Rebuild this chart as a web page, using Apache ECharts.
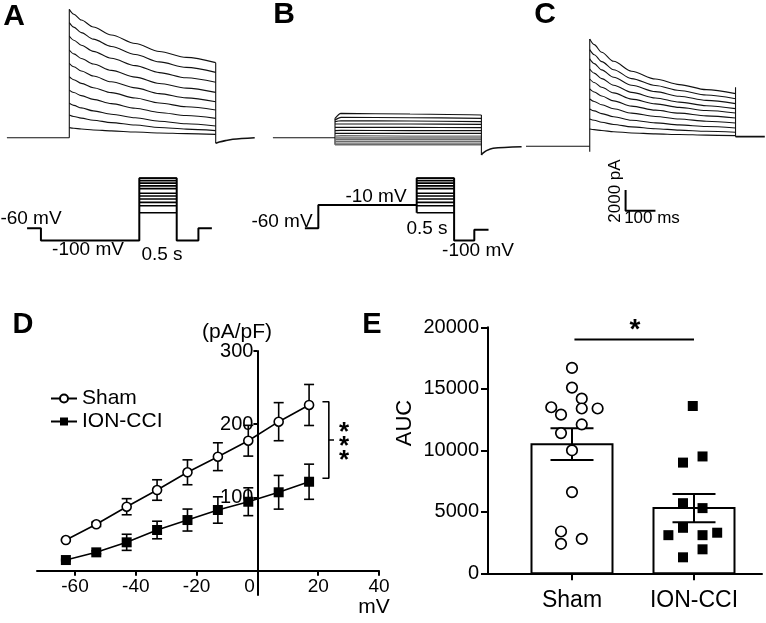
<!DOCTYPE html>
<html><head><meta charset="utf-8">
<script src="https://cdn.jsdelivr.net/npm/echarts@6/dist/echarts.min.js"></script>
<style>html,body{margin:0;padding:0;background:#fff}#c{width:766px;height:623px}</style>
</head><body><div id="c"></div>
<script>
const FONT = '"Liberation Sans", Arial, Helvetica, sans-serif';

// ================= Panels A / B / C : current traces =================
// sample times (ms after the step onset) and currents (pA)
const traceTimes = [0, 15, 40, 80, 140, 220, 300, 390, 488];
const tracesA = [
  [12400, 11930, 11370, 10700, 9920, 9100, 8330, 7760, 7250],
  [11110, 10680, 10150, 9520, 8810, 8040, 7320, 6790, 6310],
  [9820, 9420, 8930, 8340, 7670, 6960, 6290, 5790, 5350],
  [8470, 8100, 7650, 7120, 6500, 5850, 5240, 4790, 4380],
  [7180, 6850, 6440, 5960, 5400, 4810, 4260, 3850, 3480],
  [5890, 5600, 5250, 4830, 4350, 3830, 3350, 2990, 2670],
  [4600, 4360, 4060, 3700, 3290, 2850, 2440, 2140, 1870],
  [3320, 3120, 2880, 2590, 2270, 1920, 1590, 1350, 1130],
  [2190, 2050, 1890, 1690, 1460, 1220, 990, 830, 680],
  [970, 910, 840, 750, 660, 550, 460, 390, 320]
];
const preTimesA = [-208, 0];
const tailTimesA = [488, 500, 520, 545, 618];
const tailA = [-540, -420, -280, -150, 0];

const traceTimesB = [0, 20, 250, 488];
const tracesB = [
  [1870, 2350, 2290, 2190],
  [1710, 1960, 1930, 1870],
  [1550, 1640, 1610, 1550],
  [1320, 1320, 1320, 1290],
  [1000, 1000, 1000, 970],
  [680, 710, 680, 680],
  [420, 420, 420, 420],
  [160, 190, 160, 160],
  [-30, -30, -30, -30],
  [-190, -190, -190, -190],
  [-350, -350, -350, -350],
  [-520, -520, -520, -520],
  [-680, -680, -680, -680]
];
const preTimesB = [-207, 0];
const tailTimesB = [488, 493, 505, 527, 622];
const tailB = [-1670, -1500, -1250, -1020, -870];

const tracesC = [
  [10370, 9820, 9080, 8210, 7250, 6500, 5960, 5470, 5090],
  [9340, 8850, 8180, 7400, 6540, 5870, 5390, 4950, 4600],
  [8440, 7990, 7380, 6670, 5890, 5280, 4830, 4440, 4120],
  [7470, 7070, 6540, 5900, 5210, 4670, 4270, 3920, 3640],
  [6500, 6160, 5700, 5160, 4560, 4100, 3760, 3460, 3220],
  [5540, 5250, 4860, 4390, 3880, 3490, 3200, 2940, 2740],
  [4570, 4330, 4010, 3630, 3200, 2880, 2640, 2420, 2250],
  [3610, 3420, 3160, 2860, 2520, 2260, 2070, 1910, 1770],
  [2640, 2510, 2320, 2110, 1880, 1700, 1560, 1450, 1350],
  [1670, 1610, 1520, 1410, 1290, 1200, 1140, 1080, 1030]
];
const preTimesC = [-215, 0];
const onsetDipC = -520;      // pA, capacitive dip at onset
const endSpikeC = 5700;      // pA, top of the offset transient
const postTimesC = [488, 586];
const postLevelC = 930;      // pA after the pulse

// scale bar (in panel C units)
const scaleBarT = [120, 120, 220];       // ms
const scaleBarI = [-4220, -6220, -6220]; // pA

// ================= Voltage protocols (schematic, as drawn) =================
const protoA_t = [-1500, -1315, -1315, 0, 0, 500, 500, 790, 790, 970];
const protoA_v = [-60, -60, -100, -100, 104, 104, -100, -100, -60, -60];
const protoB_t = [-1495, -1315, -1315, 0, 0, 0, 500, 500, 770, 770, 960];
const protoB_v = [-60, -60, 16, 16, -9, 104, 104, -100, -100, -65, -65];
const pulseLevels = [104, 96, 88, 79, 70, 55, 46, 36, 25, 14, -9];
const pulseWindow = [0, 500];

// ================= Panel D : I-V curve =================
const ivVoltage = [-63, -53, -43, -33, -23, -13, -3, 7, 17];
const shamIV  = [41.9, 63.4, 87.4, 110.2, 134.4, 155.7, 177.5, 203.5, 226.3];
const shamSEM = [1, 3, 11, 14, 17, 19, 21, 26, 28];
const cciIV   = [14.6, 25.1, 38.8, 55.6, 69.2, 82.9, 94.2, 107.1, 121.5];
const cciSEM  = [1, 2, 11, 12, 15, 18, 19, 23, 24];
const ivXTicks = [-60, -40, -20, 0, 20, 40];
const ivYTicks = [100, 200, 300];

// ================= Panel E : AUC =================
const aucGroups = ['Sham', 'ION-CCI'];
const aucMean = [10500, 5300];
const aucSEM  = [1290, 1150];
const shamAUC    = [16700, 15100, 14200, 13500, 12900, 13400, 13400, 12100, 11400, 10000, 6600, 3400, 2400, 2800];
const shamJitter = [1.0, 1.0, 1.08, 0.83, 0.91, 1.08, 1.21, 1.08, 0.91, 1.0, 1.0, 0.91, 0.91, 1.08];
const cciAUC     = [13600, 9000, 9500, 5700, 5300, 3700, 3100, 3100, 3300, 1950, 1300];
const cciJitter  = [1.99, 1.91, 2.07, 1.91, 2.07, 1.91, 1.79, 2.07, 2.19, 2.07, 1.91];
const aucYTicks = [0, 5000, 10000, 15000, 20000];
const aucSigY = 19000;

// ---------------------------------------------------------------------
const chart = echarts.init(document.getElementById('c'), null, {renderer: 'canvas'});
const INK = '#111';
const series = [];

function lineS(gi, data, extra) {
  series.push(Object.assign({
    type: 'line', xAxisIndex: gi, yAxisIndex: gi, data: data, symbol: 'none',
    silent: true, animation: false, z: 2, clip: false,
    lineStyle: {color: INK, width: 1.1}
  }, extra || {}));
}
const zip = (ts, vs) => ts.map((t, i) => [t, vs[i]]);
const smoothOpt = {smooth: 0.3, smoothMonotone: 'x'};

// ---- Panel A traces (grid 0)
lineS(0, preTimesA.map(t => [t, 0]));
lineS(0, [[0, 0], [0, Math.max(...tracesA.map(r => r[0]))]]);
tracesA.forEach(r => lineS(0, zip(traceTimes, r), smoothOpt));
const endT = traceTimes[traceTimes.length - 1];
lineS(0, [[endT, Math.max(...tracesA.map(r => r[r.length - 1]))], [endT, tailA[0]]]);
lineS(0, zip(tailTimesA, tailA), {smooth: 0.3, lineStyle: {color: INK, width: 1.6}});

// ---- Panel B traces (grid 1)
lineS(1, preTimesB.map(t => [t, 0]));
lineS(1, [[0, Math.min(...tracesB.map(r => r[0]))], [0, Math.max(...tracesB.map(r => r[0]))]]);
tracesB.forEach((r, i) => lineS(1, zip(traceTimesB, r),
  Object.assign({}, smoothOpt, {lineStyle: {color: i < 7 ? INK : '#6a6a6a', width: i < 7 ? 1.1 : 1.3}})));
lineS(1, [[endT, Math.max(...tracesB.map(r => r[r.length - 1]))], [endT, tailB[0]]]);
lineS(1, zip(tailTimesB, tailB), {smooth: 0.3, lineStyle: {color: INK, width: 1.6}});

// ---- Panel C traces (grid 2)
lineS(2, preTimesC.map(t => [t, 0]));
lineS(2, [[0, onsetDipC], [0, Math.max(...tracesC.map(r => r[0]))]]);
tracesC.forEach(r => lineS(2, zip(traceTimes, r), smoothOpt));
lineS(2, [[endT, endSpikeC], [endT, postLevelC]]);
lineS(2, postTimesC.map(t => [t, postLevelC]), {lineStyle: {color: INK, width: 1.6}});
lineS(2, zip(scaleBarT, scaleBarI), {lineStyle: {color: '#000', width: 2}});

// ---- Protocols (grids 3, 4)
const protoStyle = {lineStyle: {color: '#000', width: 2}};
lineS(3, zip(protoA_t, protoA_v), protoStyle);
lineS(4, zip(protoB_t, protoB_v), protoStyle);
[3, 4].forEach(gi => pulseLevels.forEach(L =>
  lineS(gi, pulseWindow.map(t => [t, L]), {lineStyle: {color: '#000', width: 1.6}})));

// ---- Panel D (grid 5)
function errBar(gi, xs, ys, es, cap, width, z) {
  series.push({
    type: 'custom', xAxisIndex: gi, yAxisIndex: gi, silent: true, animation: false, z: z,
    data: xs.map((x, i) => [x, ys[i] - es[i], ys[i] + es[i]]),
    encode: {x: 0, y: [1, 2]},
    renderItem: function (params, api) {
      const lo = api.coord([api.value(0), api.value(1)]);
      const hi = api.coord([api.value(0), api.value(2)]);
      const st = {stroke: '#000', lineWidth: width};
      return {type: 'group', children: [
        {type: 'line', shape: {x1: lo[0], y1: lo[1], x2: hi[0], y2: hi[1]}, style: st},
        {type: 'line', shape: {x1: lo[0] - cap, y1: lo[1], x2: lo[0] + cap, y2: lo[1]}, style: st},
        {type: 'line', shape: {x1: hi[0] - cap, y1: hi[1], x2: hi[0] + cap, y2: hi[1]}, style: st}
      ]};
    }
  });
}
errBar(5, ivVoltage, shamIV, shamSEM, 5, 1.6, 3);
errBar(5, ivVoltage, cciIV, cciSEM, 5, 1.6, 3);
series.push({
  name: 'Sham', type: 'line', xAxisIndex: 5, yAxisIndex: 5, data: zip(ivVoltage, shamIV),
  symbol: 'circle', symbolSize: 9, animation: false, silent: true, z: 5,
  lineStyle: {color: '#000', width: 1.6},
  itemStyle: {color: '#fff', borderColor: '#000', borderWidth: 1.6}
});
series.push({
  name: 'ION-CCI', type: 'line', xAxisIndex: 5, yAxisIndex: 5, data: zip(ivVoltage, cciIV),
  symbol: 'rect', symbolSize: 10, animation: false, silent: true, z: 5,
  lineStyle: {color: '#000', width: 1.6},
  itemStyle: {color: '#000'}
});
// significance bracket derived from the last points
const lastV = ivVoltage[ivVoltage.length - 1];
const brTop = shamIV[shamIV.length - 1] + 4.5, brBot = cciIV[cciIV.length - 1] + 4.7;
lineS(5, [[lastV + 4.4, brTop], [lastV + 6.5, brTop], [lastV + 6.5, brBot], [lastV + 4.4, brBot]], {lineStyle: {color: '#000', width: 1.6}});
lineS(5, [[lastV + 6.5, (brTop + brBot) / 2], [lastV + 8.2, (brTop + brBot) / 2]], {lineStyle: {color: '#000', width: 1.6}});

// ---- Panel E (grid 6)
series.push({
  type: 'custom', xAxisIndex: 6, yAxisIndex: 6, silent: true, animation: false, z: 1,
  data: aucMean.map((m, i) => [i + 1, m]),
  encode: {x: 0, y: 1},
  renderItem: function (params, api) {
    const top = api.coord([api.value(0), api.value(1)]);
    const base = api.coord([api.value(0), 0]);
    return {type: 'rect', shape: {x: top[0] - 40.5, y: top[1], width: 81, height: base[1] - top[1]},
      style: {fill: '#fff', stroke: '#000', lineWidth: 2}};
  }
});
errBar(6, [1, 2], aucMean, aucSEM, 21.5, 2, 2);
series.push({
  type: 'scatter', xAxisIndex: 6, yAxisIndex: 6, data: zip(shamJitter, shamAUC), silent: true, animation: false, z: 4,
  symbol: 'circle', symbolSize: 10.5, itemStyle: {color: '#fff', borderColor: '#000', borderWidth: 1.7, opacity: 1}
});
series.push({
  type: 'scatter', xAxisIndex: 6, yAxisIndex: 6, data: zip(cciJitter, cciAUC), silent: true, animation: false, z: 4,
  symbol: 'rect', symbolSize: 10, itemStyle: {color: '#000', opacity: 1}
});
lineS(6, [[1.02, aucSigY], [2.0, aucSigY]], {lineStyle: {color: '#000', width: 2}});

// ---------------------------------------------------------------------
const hiddenX = (gi, min, max) => ({gridIndex: gi, type: 'value', min, max, show: false});
const hiddenY = (gi, min, max) => ({gridIndex: gi, type: 'value', min, max, show: false});
const axisInk = {color: '#000', width: 2};
const lbl = (size, extra) => Object.assign({color: '#000', fontSize: size, fontFamily: FONT}, extra || {});

const PA_PER_PX = 96.6, MS_PER_PX = 10 / 3;
// panel D geometry (the axes cross at 0 / 0)
const D = {left: 37, top: 351, width: 342, height: 243.9, xMin: -72.5, xMax: 40, yMin: -33, yMax: 300};
const dXOffset = -(D.height * (0 - D.yMin) / (D.yMax - D.yMin));   // move x axis up to y = 0
const dYOffset = -(D.width * (0 - D.xMin) / (D.xMax - D.xMin));    // move y axis right to x = 0

const option = {
  backgroundColor: '#fff',
  animation: false,
  grid: [
    {left: 6.3, top: 1.05, width: 840 / MS_PER_PX, height: 15200 / PA_PER_PX},
    {left: 272, top: 1.05, width: 840 / MS_PER_PX, height: 15200 / PA_PER_PX},
    {left: 527, top: 9.65, width: 800 / MS_PER_PX, height: 20200 / PA_PER_PX},
    {left: 19.6, top: 173.4, width: 202, height: 76.25},
    {left: 297, top: 173.4, width: 202, height: 76.25},
    {left: D.left, top: D.top, width: D.width, height: D.height},
    {left: 488, top: 327.3, width: 274, height: 246}
  ],
  xAxis: [
    hiddenX(0, -210, 630), hiddenX(1, -210, 630), hiddenX(2, -210, 590),
    hiddenX(3, -1600, 1100), hiddenX(4, -1600, 1100),
    {gridIndex: 5, type: 'value', min: D.xMin, max: D.xMax, position: 'bottom', offset: dXOffset,
      axisLine: {show: true, onZero: false, lineStyle: axisInk},
      axisTick: {show: true, customValues: ivXTicks, length: 5, lineStyle: axisInk},
      axisLabel: lbl(19, {customValues: ivXTicks, margin: 7, formatter: v => (v === 0 ? '0   ' : String(v))}),
      splitLine: {show: false}},
    {gridIndex: 6, type: 'value', min: 0.3115, max: 2.5574,
      axisLine: {show: true, onZero: false, lineStyle: axisInk},
      axisTick: {show: true, customValues: [1, 2], length: 7, lineStyle: axisInk},
      axisLabel: lbl(23, {customValues: [1, 2], margin: 16, formatter: v => aucGroups[Math.round(v) - 1]}),
      splitLine: {show: false}}
  ],
  yAxis: [
    hiddenY(0, -2000, 13200), hiddenY(1, -2000, 13200), hiddenY(2, -7000, 13200),
    hiddenY(3, -130, 120), hiddenY(4, -130, 120),
    {gridIndex: 5, type: 'value', min: D.yMin, max: D.yMax, position: 'left', offset: dYOffset,
      axisLine: {show: true, onZero: false, lineStyle: axisInk},
      axisTick: {show: true, customValues: ivYTicks, length: 4, lineStyle: axisInk},
      axisLabel: lbl(20, {customValues: ivYTicks, margin: 4}),
      splitLine: {show: false}},
    {gridIndex: 6, type: 'value', min: 0, max: 20000, interval: 5000,
      axisLine: {show: true, onZero: false, lineStyle: axisInk},
      axisTick: {show: true, customValues: aucYTicks, length: 7, lineStyle: axisInk},
      axisLabel: lbl(20, {customValues: aucYTicks, margin: 9, formatter: v => String(v)}),
      splitLine: {show: false}}
  ],
  legend: {
    data: ['Sham', 'ION-CCI'], orient: 'vertical', left: 45, top: 383,
    itemWidth: 26, itemHeight: 10, itemGap: 2, selectedMode: false,
    textStyle: {color: '#000', fontSize: 21, fontFamily: FONT}
  },
  graphic: [],
  series: series
};

function txt(text, x, y, size, extra) {
  return Object.assign({type: 'text', x: x, y: y, silent: true, z: 100,
    style: Object.assign({text: text, font: size + 'px ' + FONT, fill: '#000', align: 'center', verticalAlign: 'middle'}, (extra && extra.style) || {})},
    extra && extra.rotation !== undefined ? {rotation: extra.rotation} : {});
}
const bold = s => ({style: {font: 'bold ' + s + 'px ' + FONT}});
option.graphic = [
  txt('A', 14, 17, 30, bold(30)),
  txt('B', 284, 15, 30, bold(30)),
  txt('C', 545, 15, 30, bold(30)),
  txt('D', 23, 325, 29, bold(29)),
  txt('E', 372, 325, 29, bold(29)),
  txt('-60 mV', 31, 219, 19),
  txt('-100 mV', 88, 250, 19),
  txt('0.5 s', 162, 255, 19),
  txt('-60 mV', 282, 222, 19),
  txt('-10 mV', 376, 197, 19),
  txt('0.5 s', 427, 229, 19),
  txt('-100 mV', 478, 251, 19),
  txt('2000 pA', 615, 191, 17, {rotation: Math.PI / 2}),
  txt('100 ms', 652, 218, 17),
  txt('(pA/pF)', 237, 332, 21),
  txt('mV', 374, 607, 21),
  txt('*', 344, 433, 26, bold(26)),
  txt('*', 344, 447, 26, bold(26)),
  txt('*', 344, 461, 26, bold(26)),
  txt('AUC', 405, 423, 22, {rotation: Math.PI / 2}),
  txt('*', 635, 330, 28, bold(28))
];

chart.setOption(option);
</script>
</body></html>
